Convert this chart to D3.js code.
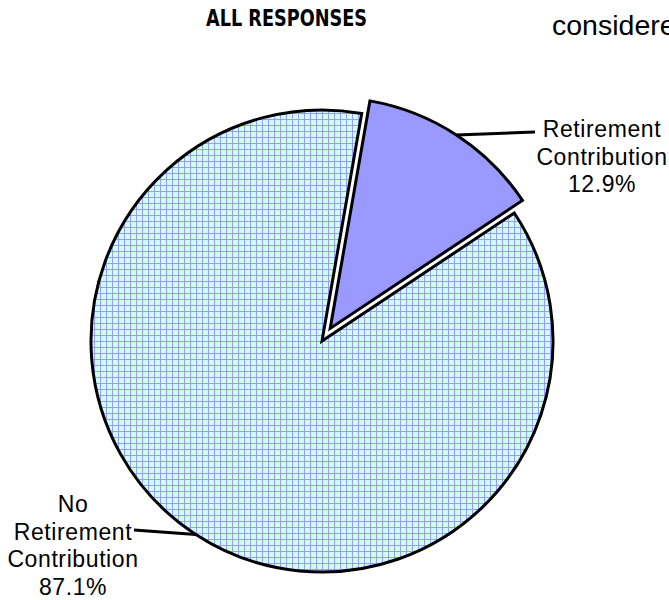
<!DOCTYPE html>
<html>
<head>
<meta charset="utf-8">
<script src="https://cdn.jsdelivr.net/npm/d3@7"></script>
<style>
  html, body { margin: 0; padding: 0; background: #fff; overflow: hidden; }
  text { font-family: "Liberation Sans", Arial, sans-serif; fill: #000; }
</style>
</head>
<body>
<svg id="chart" width="669" height="600"></svg>
<script>
// chart data
const categories = ["Retirement Contribution", "No Retirement Contribution"];
const values = [12.9, 87.1];
const labelNames = [["Retirement", "Contribution"], ["No", "Retirement", "Contribution"]];
const chartTitle = "ALL RESPONSES";
const strayText = "considered";

const svg = d3.select("#chart");
const W = +svg.attr("width"), H = +svg.attr("height");

svg.append("rect").attr("width", W).attr("height", H).attr("fill", "#fff");

// hatched fill for the big slice
const defs = svg.append("defs");
const pat = defs.append("pattern")
    .attr("id", "grid")
    .attr("patternUnits", "userSpaceOnUse")
    .attr("width", 6).attr("height", 6);
pat.append("rect").attr("width", 6).attr("height", 6).attr("fill", "#ccffff");
pat.append("path").attr("d", "M0,0.5H6M0.5,0V6")
    .attr("stroke", "#9999ff").attr("stroke-width", 1).attr("fill", "none")
    .attr("shape-rendering", "crispEdges");

const fills = ["#9999ff", "url(#grid)"];

// title + clipped text from page
svg.append("text")
    .attr("x", 206).attr("y", 26)
    .attr("textLength", 161)
    .attr("lengthAdjust", "spacingAndGlyphs")
    .style("font-family", "'DejaVu Sans Condensed', 'Liberation Sans', sans-serif")
    .style("font-weight", "bold")
    .style("font-size", "23px")
    .text(chartTitle);

svg.append("text")
    .attr("x", 552).attr("y", 35)
    .style("font-size", "28.5px")
    .text(strayText);

// pie geometry
const cx = 322, cy = 341, r = 231;
const a0 = 9.9 * Math.PI / 180;
const explode = [15, 0];

const pie = d3.pie().sort(null).startAngle(a0).endAngle(a0 + 2 * Math.PI);
const arcs = pie(values);
const arc = d3.arc().innerRadius(0).outerRadius(r);

const g = svg.append("g").attr("transform", `translate(${cx},${cy})`);

function offset(d, i) {
    const m = (d.startAngle + d.endAngle) / 2;
    return [explode[i] * Math.sin(m), -explode[i] * Math.cos(m)];
}

// draw big slice first, small exploded on top
const order = [1, 0];
order.forEach(i => {
    const d = arcs[i];
    const [ox, oy] = offset(d, i);
    g.append("path")
        .attr("transform", `translate(${ox},${oy})`)
        .attr("d", arc(d))
        .attr("fill", fills[i])
        .attr("stroke", "#000")
        .attr("stroke-width", 3)
        .attr("stroke-linejoin", "miter");
});

// labels with leader lines
const fmt = v => d3.format(".1f")(v) + "%";
const labelPos = [
    { x: 602, y: 137, lineEnd: [535, 132] },
    { x: 73, y: 512, lineEnd: [134, 530] }
];
const lineH = 27.5;

arcs.forEach((d, i) => {
    const [ox, oy] = offset(d, i);
    const m = (d.startAngle + d.endAngle) / 2;
    const px = cx + ox + r * Math.sin(m);
    const py = cy + oy - r * Math.cos(m);
    const lp = labelPos[i];
    svg.append("line")
        .attr("x1", px).attr("y1", py)
        .attr("x2", lp.lineEnd[0]).attr("y2", lp.lineEnd[1])
        .attr("stroke", "#000").attr("stroke-width", 3);

    const lines = labelNames[i].concat([fmt(values[i])]);
    const t = svg.append("text")
        .attr("text-anchor", "middle")
        .style("font-size", "23px")
        .style("letter-spacing", "0.6px");
    lines.forEach((s, k) => {
        t.append("tspan").attr("x", lp.x).attr("y", lp.y + k * lineH).text(s);
    });
});
</script>
</body>
</html>
